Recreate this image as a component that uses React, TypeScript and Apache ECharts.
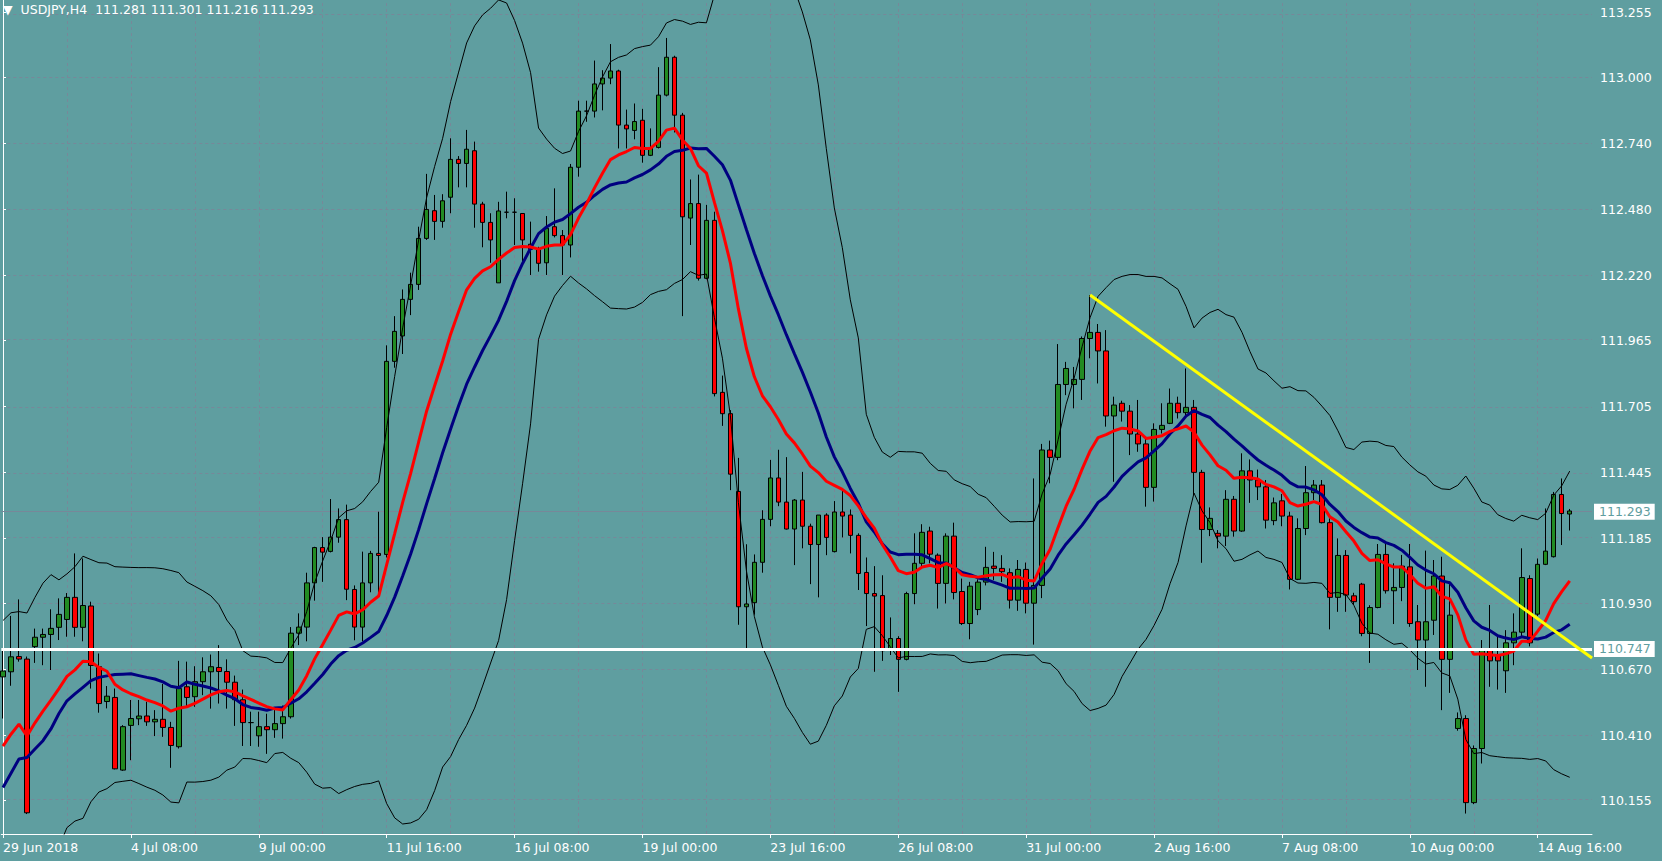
import React, { useEffect, useRef } from "react";
import * as echarts from "echarts";

// ---------------- data ----------------
const symbol = "USDJPY,H4";

const xLabels = [
  "29 Jun 2018", "4 Jul 08:00", "9 Jul 00:00", "11 Jul 16:00", "16 Jul 08:00",
  "19 Jul 00:00", "23 Jul 16:00", "26 Jul 08:00", "31 Jul 00:00", "2 Aug 16:00",
  "7 Aug 08:00", "10 Aug 00:00", "14 Aug 16:00",
];
const labelEvery = 16; // bars between time labels
const gridEvery = 8; // bars between vertical grid lines

const priceTicks = [
  113.255, 113.0, 112.74, 112.48, 112.22, 111.965, 111.705, 111.445, 111.185,
  110.93, 110.67, 110.41, 110.155,
];

const opens = [
  110.640, 110.660, 110.720, 110.710, 110.759, 110.796, 110.807, 110.835, 110.866, 110.953,
  110.835, 110.919, 110.680, 110.543, 110.559, 110.273, 110.449, 110.475, 110.486, 110.463,
  110.473, 110.441, 110.365, 110.601, 110.562, 110.621, 110.660, 110.677, 110.661, 110.619,
  110.550, 110.460, 110.408, 110.444, 110.432, 110.456, 110.483, 110.812, 110.836, 111.010,
  111.149, 111.134, 111.190, 111.259, 110.984, 110.836, 111.010, 111.126, 111.122, 111.882,
  111.982, 112.126, 112.185, 112.366, 112.475, 112.433, 112.528, 112.677, 112.661, 112.711,
  112.501, 112.429, 112.191, 112.469, 112.469, 112.464, 112.343, 112.323, 112.270, 112.412,
  112.377, 112.340, 112.646, 112.867, 112.867, 112.974, 112.997, 113.025, 112.812, 112.791,
  112.831, 112.693, 112.724, 112.930, 113.079, 112.851, 112.446, 112.503, 112.209, 112.437,
  111.760, 111.676, 111.370, 110.916, 110.932, 111.091, 111.260, 111.423, 111.328, 111.222,
  111.336, 111.233, 111.161, 111.277, 111.133, 111.289, 111.277, 111.197, 111.051, 110.968,
  110.960, 110.748, 110.791, 110.709, 110.968, 111.087, 111.214, 111.119, 111.008, 111.194,
  110.976, 110.850, 110.905, 111.013, 111.076, 111.067, 111.050, 110.942, 111.063, 110.930,
  111.000, 111.533, 111.504, 111.791, 111.791, 111.811, 111.972, 111.996, 111.923, 111.667,
  111.717, 111.686, 111.596, 111.557, 111.386, 111.614, 111.638, 111.717, 111.680, 111.701,
  111.445, 111.220, 111.205, 111.194, 111.339, 111.214, 111.451, 111.415, 111.388, 111.255,
  111.333, 111.273, 111.024, 111.224, 111.365, 111.395, 111.247, 110.953, 111.118, 110.959,
  111.005, 110.811, 110.913, 111.122, 110.979, 110.992, 111.073, 110.857, 110.785, 110.863,
  111.037, 110.709, 110.437, 110.476, 110.145, 110.358, 110.745, 110.726, 110.664, 110.774,
  110.816, 111.027, 110.887, 111.083, 111.113, 111.358, 111.281,
];

const highs = [
  110.745, 110.880, 110.945, 110.720, 110.830, 110.830, 110.906, 110.949, 110.970, 111.126,
  111.106, 110.936, 110.732, 110.604, 110.594, 110.450, 110.549, 110.549, 110.542, 110.509,
  110.612, 110.463, 110.703, 110.700, 110.682, 110.717, 110.728, 110.765, 110.709, 110.645,
  110.590, 110.503, 110.503, 110.495, 110.519, 110.527, 110.836, 110.890, 111.050, 111.152,
  111.190, 111.340, 111.303, 111.318, 111.000, 111.133, 111.136, 111.290, 111.945, 112.060,
  112.165, 112.231, 112.412, 112.620, 112.537, 112.540, 112.760, 112.690, 112.793, 112.747,
  112.510, 112.465, 112.510, 112.550, 112.524, 112.464, 112.432, 112.333, 112.454, 112.563,
  112.399, 112.659, 112.908, 112.908, 113.066, 113.028, 113.131, 113.030, 112.873, 112.897,
  112.876, 112.799, 113.040, 113.155, 113.085, 112.860, 112.598, 112.617, 112.498, 112.471,
  111.826, 111.690, 111.502, 111.162, 111.122, 111.296, 111.494, 111.534, 111.505, 111.340,
  111.447, 111.243, 111.277, 111.284, 111.332, 111.373, 111.299, 111.205, 111.110, 111.076,
  111.040, 110.874, 110.800, 110.975, 111.205, 111.241, 111.231, 111.126, 111.205, 111.247,
  111.027, 111.014, 111.024, 111.152, 111.132, 111.119, 111.067, 111.100, 111.090, 111.421,
  111.557, 111.570, 111.950, 111.880, 111.860, 111.980, 112.143, 112.029, 112.005, 111.743,
  111.727, 111.710, 111.730, 111.585, 111.638, 111.717, 111.775, 111.743, 111.854, 111.730,
  111.455, 111.307, 111.218, 111.375, 111.352, 111.520, 111.496, 111.456, 111.415, 111.346,
  111.360, 111.290, 111.264, 111.470, 111.415, 111.415, 111.264, 111.185, 111.139, 110.971,
  111.010, 110.922, 111.163, 111.163, 111.087, 111.120, 111.163, 110.923, 111.137, 111.100,
  111.113, 111.015, 110.500, 110.489, 110.370, 110.785, 110.923, 110.798, 110.824, 110.890,
  111.146, 111.040, 111.106, 111.303, 111.368, 111.421, 111.301,
];

const lows = [
  110.476, 110.605, 110.700, 110.100, 110.695, 110.686, 110.667, 110.785, 110.798, 110.798,
  110.780, 110.594, 110.499, 110.516, 110.276, 110.270, 110.312, 110.450, 110.447, 110.407,
  110.404, 110.282, 110.358, 110.522, 110.522, 110.568, 110.515, 110.535, 110.515, 110.447,
  110.368, 110.368, 110.365, 110.337, 110.400, 110.397, 110.476, 110.765, 110.780, 110.940,
  111.014, 111.130, 111.168, 110.942, 110.784, 110.780, 110.973, 110.957, 111.110, 111.857,
  111.911, 112.064, 112.163, 112.360, 112.360, 112.408, 112.465, 112.567, 112.567, 112.408,
  112.331, 112.270, 112.191, 112.445, 112.340, 112.274, 112.222, 112.235, 112.222, 112.370,
  112.222, 112.291, 112.609, 112.825, 112.842, 112.870, 112.973, 112.720, 112.720, 112.756,
  112.664, 112.690, 112.720, 112.925, 112.783, 112.060, 112.340, 112.200, 112.205, 111.744,
  111.628, 111.375, 110.845, 110.750, 110.885, 111.050, 111.233, 111.312, 111.220, 111.080,
  111.146, 111.005, 110.953, 111.119, 111.130, 111.189, 111.126, 110.982, 110.840, 110.660,
  110.703, 110.726, 110.581, 110.705, 110.926, 111.070, 111.087, 110.909, 110.929, 110.945,
  110.844, 110.788, 110.883, 111.000, 111.021, 111.014, 110.909, 110.900, 110.890, 110.767,
  110.950, 111.402, 111.493, 111.749, 111.697, 111.730, 111.894, 111.795, 111.625, 111.408,
  111.645, 111.513, 111.526, 111.310, 111.330, 111.598, 111.635, 111.657, 111.664, 111.356,
  111.089, 111.194, 111.146, 111.155, 111.192, 111.211, 111.325, 111.336, 111.224, 111.237,
  111.233, 110.984, 111.021, 111.198, 111.336, 111.244, 110.827, 110.896, 110.896, 110.923,
  110.800, 110.695, 110.910, 110.968, 110.848, 110.938, 110.837, 110.667, 110.601, 110.805,
  110.509, 110.577, 110.428, 110.102, 110.139, 110.299, 110.601, 110.590, 110.577, 110.686,
  110.800, 110.760, 110.880, 111.080, 111.110, 111.159, 111.216,
];

const closes = [
  110.663, 110.719, 110.710, 110.105, 110.796, 110.807, 110.831, 110.886, 110.953, 110.835,
  110.921, 110.685, 110.535, 110.564, 110.278, 110.444, 110.476, 110.486, 110.463, 110.473,
  110.441, 110.370, 110.594, 110.559, 110.621, 110.660, 110.680, 110.661, 110.619, 110.550,
  110.460, 110.460, 110.444, 110.432, 110.456, 110.483, 110.812, 110.836, 111.010, 111.149,
  111.131, 111.190, 111.259, 110.985, 110.836, 111.010, 111.126, 111.118, 111.882, 112.000,
  112.126, 112.185, 112.366, 112.480, 112.433, 112.514, 112.677, 112.661, 112.717, 112.501,
  112.429, 112.360, 112.474, 112.469, 112.469, 112.360, 112.323, 112.268, 112.406, 112.377,
  112.340, 112.646, 112.867, 112.867, 112.974, 112.997, 113.025, 112.812, 112.797, 112.826,
  112.693, 112.724, 112.930, 113.079, 112.851, 112.451, 112.503, 112.209, 112.437, 111.755,
  111.676, 111.438, 110.916, 110.927, 111.091, 111.260, 111.423, 111.328, 111.222, 111.336,
  111.233, 111.161, 111.277, 111.189, 111.289, 111.273, 111.197, 111.047, 110.968, 110.958,
  110.743, 110.791, 110.709, 110.968, 111.087, 111.209, 111.123, 111.008, 111.194, 110.972,
  110.850, 110.997, 111.013, 111.071, 111.067, 111.054, 110.942, 111.063, 110.930, 111.000,
  111.533, 111.504, 111.791, 111.854, 111.811, 111.972, 111.996, 111.923, 111.667, 111.710,
  111.686, 111.596, 111.557, 111.386, 111.614, 111.630, 111.717, 111.680, 111.701, 111.445,
  111.220, 111.264, 111.194, 111.339, 111.214, 111.451, 111.415, 111.388, 111.257, 111.325,
  111.273, 111.024, 111.224, 111.365, 111.395, 111.247, 110.953, 111.118, 110.962, 110.936,
  110.811, 110.913, 111.122, 110.979, 110.992, 111.076, 110.850, 110.785, 110.857, 111.037,
  110.709, 110.883, 110.476, 110.145, 110.358, 110.745, 110.703, 110.703, 110.774, 110.816,
  111.031, 110.774, 111.083, 111.135, 111.358, 111.283, 111.293,
];

// closes of the 19 bars before the first visible one (estimated from the indicator levels at the left edge)
const priorCloses = [
  109.600, 109.590, 109.985, 110.136, 110.147, 109.910, 109.666, 109.953, 110.295, 110.400,
  110.165, 110.275, 110.444, 110.178, 110.414, 110.446, 110.626, 110.603, 110.603,
];

const supportLevel = 110.747;
const trendFrom: [number, number] = [136, 112.143];
const trendTo: [number, number] = [198.79, 110.714];

const emaPeriod = 14;
const bbPeriod = 20;
const bbDeviation = 2;

// ---------------- styling / layout ----------------
const BG = "#5F9EA0";
const FONT = "DejaVu Sans";
const FS = 12.5;
const PLOT_W = 1592;
const PLOT_H = 834;
const BAR_PX = 8;
const X_MIN = -0.2125;
const X_MAX = X_MIN + PLOT_W / BAR_PX;
const Y_MIN = 110.0215;
const Y_MAX = 113.3044;

function indicators() {
  const all = [...priorCloses, ...closes];
  const off = priorCloses.length;
  const a = 2 / (emaPeriod + 1);
  const emaAll: number[] = [];
  all.forEach((c, k) => {
    emaAll.push(k === 0 ? c : emaAll[k - 1] + a * (c - emaAll[k - 1]));
  });
  const ema: number[][] = [];
  const mid: number[][] = [];
  const up: number[][] = [];
  const lo: number[][] = [];
  for (let i = 0; i < closes.length; i++) {
    const k = off + i;
    ema.push([i, emaAll[k]]);
    const win = all.slice(k - bbPeriod + 1, k + 1);
    const m = win.reduce((s, v) => s + v, 0) / win.length;
    const sd = Math.sqrt(win.reduce((s, v) => s + (v - m) * (v - m), 0) / win.length);
    mid.push([i, m]);
    up.push([i, m + bbDeviation * sd]);
    lo.push([i, m - bbDeviation * sd]);
  }
  return { ema, mid, up, lo };
}

export default function App() {
  const ref = useRef<HTMLDivElement>(null);

  useEffect(() => {
    document.body.style.margin = "0";
    const chart = echarts.init(ref.current!, null, { renderer: "svg" });
    const { ema, mid, up, lo } = indicators();
    const n = closes.length;
    const last = n - 1;
    const fmt = (v: number) => v.toFixed(3);

    const candles = opens.map((o, i) => [i, o, closes[i], lows[i], highs[i]]);
    const labelTicks = xLabels.map((_, k) => k * labelEvery);
    const vGrid: any[] = [];
    for (let v = 0; v <= X_MAX; v += gridEvery) vGrid.push({ xAxis: v });
    const hGrid = priceTicks.map((v) => ({ yAxis: v }));

    const boxLabel = (v: number) => ({
      show: true,
      position: "end",
      formatter: fmt(v),
      backgroundColor: "#ffffff",
      color: BG,
      fontFamily: FONT,
      fontSize: FS,
      padding: [2, 4, 1, 5],
      distance: 2,
    });

    const option: any = {
      animation: false,
      backgroundColor: BG,
      title: {
        text: `\u25BC  ${symbol}  ${fmt(opens[last])} ${fmt(highs[last])} ${fmt(lows[last])} ${fmt(closes[last])}`,
        left: 3,
        top: 3,
        padding: 0,
        textStyle: { color: "#ffffff", fontSize: FS, fontWeight: "normal", fontFamily: FONT },
      },
      grid: { left: 0, top: 0, width: PLOT_W, height: PLOT_H, containLabel: false },
      xAxis: {
        type: "value",
        min: X_MIN,
        max: X_MAX,
        axisLine: { show: true, lineStyle: { color: "#ffffff", width: 1 } },
        axisTick: { show: true, customValues: labelTicks, length: 4, lineStyle: { color: "#ffffff" } },
        axisLabel: {
          show: true,
          customValues: labelTicks,
          formatter: (v: number) => xLabels[Math.round(v / labelEvery)] ?? "",
          color: "#ffffff",
          fontFamily: FONT,
          fontSize: FS,
          align: "left",
          margin: 7,
        },
        splitLine: { show: false },
      },
      yAxis: {
        type: "value",
        position: "right",
        min: Y_MIN,
        max: Y_MAX,
        axisLine: { show: true, lineStyle: { color: "#ffffff", width: 1 } },
        axisTick: { show: true, customValues: priceTicks, length: 3, lineStyle: { color: "#ffffff" } },
        axisLabel: {
          show: true,
          customValues: priceTicks,
          formatter: (v: number) => fmt(v),
          color: "#ffffff",
          fontFamily: FONT,
          fontSize: FS,
          margin: 8,
        },
        splitLine: { show: false },
      },
      series: [
        {
          name: "grid",
          type: "line",
          data: [],
          z: 0,
          silent: true,
          markLine: {
            z: 0,
            silent: true,
            symbol: ["none", "none"],
            label: { show: false },
            lineStyle: { type: [3, 3], color: "#778899", width: 1 },
            data: [...hGrid, ...vGrid],
          },
        },
        {
          name: "bid",
          type: "line",
          data: [],
          z: 1,
          silent: true,
          markLine: {
            z: 1,
            silent: true,
            symbol: ["none", "none"],
            lineStyle: { type: "solid", color: "#778899", width: 1 },
            data: [{ yAxis: closes[last], label: boxLabel(closes[last]) }],
          },
        },
        {
          name: symbol,
          type: "candlestick",
          data: candles,
          barWidth: 5,
          z: 3,
          itemStyle: {
            color: "#228B22",
            color0: "#FF0000",
            borderColor: "#000000",
            borderColor0: "#000000",
            borderWidth: 1,
          },
        },
        {
          name: "BB upper",
          type: "line",
          data: up,
          showSymbol: false,
          z: 4,
          lineStyle: { color: "#000000", width: 1 },
        },
        {
          name: "BB lower",
          type: "line",
          data: lo,
          showSymbol: false,
          z: 4,
          lineStyle: { color: "#000000", width: 1 },
        },
        {
          name: "MA20",
          type: "line",
          data: mid,
          showSymbol: false,
          z: 5,
          lineStyle: { color: "#000080", width: 3 },
        },
        {
          name: "EMA14",
          type: "line",
          data: ema,
          showSymbol: false,
          z: 6,
          lineStyle: { color: "#FF0000", width: 3 },
        },
        {
          name: "support",
          type: "line",
          data: [],
          z: 7,
          silent: true,
          markLine: {
            z: 7,
            silent: true,
            symbol: ["none", "none"],
            data: [
              {
                yAxis: supportLevel,
                lineStyle: { type: "solid", color: "#ffffff", width: 3 },
                label: boxLabel(supportLevel),
              },
            ],
          },
        },
        {
          name: "trend",
          type: "line",
          data: [trendFrom, trendTo],
          showSymbol: false,
          z: 8,
          silent: true,
          lineStyle: { color: "#FFFF00", width: 3 },
        },
      ],
    };

    chart.setOption(option);
    return () => chart.dispose();
  }, []);

  return (
    <div
      ref={ref}
      style={{ position: "fixed", left: 0, top: 0, width: 1662, height: 861 }}
    />
  );
}
